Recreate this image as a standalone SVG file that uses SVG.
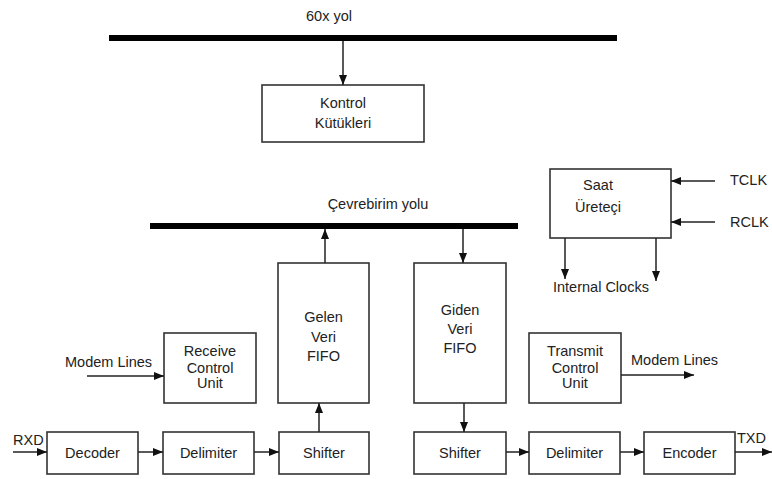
<svg xmlns="http://www.w3.org/2000/svg" width="772" height="479" viewBox="0 0 772 479">
  <style>
    .box { fill: #fff; stroke: #333; stroke-width: 1.6; }
    .bus { fill: #000; }
    .wire { stroke: #222; stroke-width: 1.5; fill: none; marker-end: url(#arrow); }
    text { font-family: "Liberation Sans", Arial, sans-serif; font-size: 14.5px; fill: #222; }
    .c { text-anchor: middle; }
  </style>
  <defs>
    <marker id="arrow" viewBox="0 0 10 8" refX="10" refY="4" markerWidth="10" markerHeight="8" markerUnits="userSpaceOnUse" orient="auto">
      <path d="M0,0 L10,4 L0,8 Z" fill="#111"/>
    </marker>
  </defs>

  <!-- buses -->
  <g id="bus-60x">
    <rect class="bus" x="109" y="35" width="508" height="6"/>
    <text class="c" x="329" y="21">60x yol</text>
  </g>
  <g id="bus-cevrebirim">
    <rect class="bus" x="150" y="223" width="368" height="6"/>
    <text class="c" x="378" y="209">Çevrebirim yolu</text>
  </g>

  <!-- nodes -->
  <g id="kontrol">
    <rect class="box" x="262" y="85" width="162" height="57"/>
    <text class="c" x="343" y="108">Kontrol</text>
    <text class="c" x="343" y="128">Kütükleri</text>
  </g>
  <g id="saat">
    <rect class="box" x="550" y="169" width="121" height="69"/>
    <text class="c" x="598" y="190">Saat</text>
    <text class="c" x="598" y="212">Üreteçi</text>
  </g>
  <g id="gelen-fifo">
    <rect class="box" x="278" y="263" width="91" height="140"/>
    <text class="c" x="323.5" y="322">Gelen</text>
    <text class="c" x="323.5" y="342">Veri</text>
    <text class="c" x="323.5" y="361">FIFO</text>
  </g>
  <g id="giden-fifo">
    <rect class="box" x="414" y="263" width="92" height="140"/>
    <text class="c" x="460" y="315">Giden</text>
    <text class="c" x="460" y="334">Veri</text>
    <text class="c" x="460" y="353">FIFO</text>
  </g>
  <g id="receive-control">
    <rect class="box" x="164" y="333" width="92" height="70"/>
    <text class="c" x="210" y="356">Receive</text>
    <text class="c" x="210" y="373">Control</text>
    <text class="c" x="210" y="388">Unit</text>
  </g>
  <g id="transmit-control">
    <rect class="box" x="529" y="333" width="92" height="70"/>
    <text class="c" x="575" y="356">Transmit</text>
    <text class="c" x="575" y="373">Control</text>
    <text class="c" x="575" y="388">Unit</text>
  </g>
  <g id="decoder">
    <rect class="box" x="47" y="432" width="91" height="42"/>
    <text class="c" x="92.5" y="458">Decoder</text>
  </g>
  <g id="rx-delimiter">
    <rect class="box" x="163" y="432" width="91" height="42"/>
    <text class="c" x="208.5" y="458">Delimiter</text>
  </g>
  <g id="rx-shifter">
    <rect class="box" x="279" y="432" width="90" height="42"/>
    <text class="c" x="324" y="458">Shifter</text>
  </g>
  <g id="tx-shifter">
    <rect class="box" x="414" y="432" width="92" height="42"/>
    <text class="c" x="460" y="458">Shifter</text>
  </g>
  <g id="tx-delimiter">
    <rect class="box" x="529" y="432" width="91" height="42"/>
    <text class="c" x="574.5" y="458">Delimiter</text>
  </g>
  <g id="encoder">
    <rect class="box" x="644" y="432" width="91" height="42"/>
    <text class="c" x="689.5" y="458">Encoder</text>
  </g>

  <!-- signal labels -->
  <g id="labels">
    <text x="730" y="185">TCLK</text>
    <text x="730" y="227">RCLK</text>
    <text x="553" y="292">Internal Clocks</text>
    <text x="65" y="367">Modem Lines</text>
    <text x="631" y="365">Modem Lines</text>
    <text x="13" y="445">RXD</text>
    <text x="737" y="443">TXD</text>
  </g>

  <!-- connectors -->
  <g id="connectors">
    <line class="wire" x1="343" y1="41" x2="343" y2="85"/>
    <line class="wire" x1="325" y1="263" x2="325" y2="229"/>
    <line class="wire" x1="463" y1="229" x2="463" y2="263"/>
    <line class="wire" x1="715" y1="181" x2="671" y2="181"/>
    <line class="wire" x1="715" y1="222" x2="671" y2="222"/>
    <line class="wire" x1="565" y1="238" x2="565" y2="279"/>
    <line class="wire" x1="656" y1="238" x2="656" y2="281"/>
    <line class="wire" x1="87" y1="376" x2="164" y2="376"/>
    <line class="wire" x1="621" y1="375" x2="694" y2="375"/>
    <line class="wire" x1="13" y1="452" x2="47" y2="452"/>
    <line class="wire" x1="138" y1="452" x2="163" y2="452"/>
    <line class="wire" x1="254" y1="452" x2="279" y2="452"/>
    <line class="wire" x1="319" y1="432" x2="319" y2="403"/>
    <line class="wire" x1="464" y1="403" x2="464" y2="432"/>
    <line class="wire" x1="506" y1="452" x2="529" y2="452"/>
    <line class="wire" x1="620" y1="452" x2="644" y2="452"/>
    <line class="wire" x1="735" y1="452" x2="772" y2="452"/>
  </g>
</svg>
